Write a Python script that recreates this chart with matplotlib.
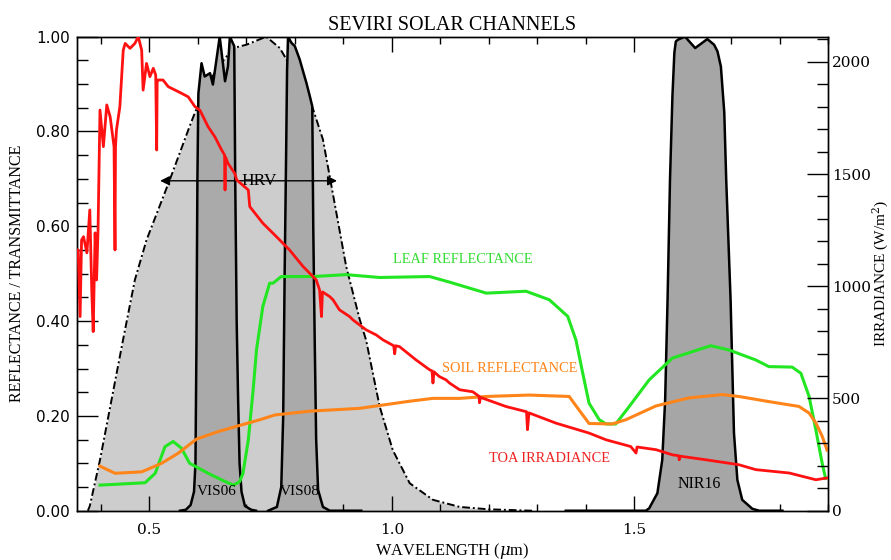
import matplotlib
matplotlib.use("Agg")
import matplotlib.pyplot as plt
from matplotlib.ticker import MultipleLocator, FormatStrFormatter

plt.rcParams['mathtext.fontset'] = 'dejavuserif'

# HRV broad band response (dash-dot outline)
hrv_x = [0.373, 0.377, 0.398, 0.4455, 0.47, 0.494, 0.542, 0.583, 0.594, 0.62, 0.645,
         0.673, 0.700, 0.741, 0.769, 0.781, 0.81, 0.837, 0.858, 0.872, 0.906, 0.934,
         0.947, 0.975, 1.002, 1.037, 1.085, 1.14, 1.20, 1.29]
hrv_y = [0.0, 0.01, 0.107, 0.36, 0.487, 0.571, 0.698, 0.811, 0.840, 0.90, 0.94,
         0.976, 0.983, 1.0, 0.976, 0.955, 0.90, 0.849, 0.783, 0.705, 0.515, 0.403,
         0.360, 0.220, 0.128, 0.058, 0.023, 0.008, 0.003, 0.0]

# narrow channels
vis06_x = [0.563, 0.575, 0.585, 0.592, 0.595, 0.597, 0.599, 0.601, 0.6075, 0.614, 0.625,
           0.631, 0.645, 0.656, 0.662, 0.666, 0.675, 0.677, 0.680, 0.683, 0.686, 0.690,
           0.697, 0.710, 0.720]
vis06_y = [0.0, 0.002, 0.012, 0.04, 0.1, 0.35, 0.7, 0.88, 0.944, 0.916, 0.923,
           0.899, 1.0, 0.906, 0.937, 1.0, 0.980, 0.7, 0.4, 0.234, 0.1, 0.04,
           0.01, 0.002, 0.0]

vis08_x = [0.745, 0.763, 0.772, 0.776, 0.779, 0.782, 0.784, 0.786, 0.793, 0.800, 0.810,
           0.824, 0.831, 0.836, 0.838, 0.841, 0.844, 0.848, 0.858, 0.872, 0.937]
vis08_y = [0.0, 0.008, 0.05, 0.2, 0.5, 0.75, 0.93, 1.0, 0.987, 0.980, 0.952,
           0.902, 0.874, 0.853, 0.6, 0.36, 0.15, 0.044, 0.008, 0.0, 0.0]

nir16_x = [1.359, 1.524, 1.531, 1.548, 1.558, 1.564, 1.569, 1.574, 1.579, 1.583, 1.586,
           1.591, 1.605, 1.626, 1.651, 1.665, 1.672, 1.679, 1.686, 1.690, 1.699, 1.706,
           1.713, 1.723, 1.744, 1.758, 1.806]
nir16_y = [0.0, 0.0, 0.005, 0.037, 0.107, 0.234, 0.446, 0.698, 0.874, 0.966, 0.990,
           0.994, 1.0, 0.976, 0.995, 0.983, 0.969, 0.937, 0.840, 0.698, 0.445, 0.164,
           0.065, 0.023, 0.004, 0.0, 0.0]

# leaf and soil reflectance
leaf_x = [0.398, 0.491, 0.512, 0.532, 0.549, 0.566, 0.583, 0.594, 0.621, 0.649, 0.673,
          0.686, 0.693, 0.704, 0.714, 0.721, 0.734, 0.748, 0.755, 0.772, 0.837, 0.906,
          0.975, 1.078, 1.12, 1.195, 1.277, 1.325, 1.363, 1.380, 1.394, 1.407, 1.428,
          1.442, 1.462, 1.490, 1.531, 1.579, 1.658, 1.696, 1.751, 1.778, 1.826, 1.844,
          1.861, 1.875, 1.888, 1.895]
leaf_y = [0.054, 0.059, 0.079, 0.135, 0.146, 0.132, 0.100, 0.094, 0.079, 0.065, 0.054,
          0.061, 0.079, 0.149, 0.255, 0.340, 0.431, 0.480, 0.480, 0.494, 0.494, 0.498,
          0.492, 0.494, 0.482, 0.459, 0.463, 0.445, 0.410, 0.360, 0.290, 0.227, 0.192,
          0.183, 0.183, 0.220, 0.276, 0.322, 0.348, 0.339, 0.318, 0.304, 0.303, 0.290,
          0.241, 0.170, 0.100, 0.068]

soil_x = [0.398, 0.429, 0.484, 0.525, 0.559, 0.597, 0.642, 0.683, 0.728, 0.759, 0.831,
          0.934, 1.037, 1.085, 1.14, 1.195, 1.284, 1.366, 1.386, 1.407, 1.455, 1.483,
          1.545, 1.613, 1.682, 1.716, 1.785, 1.84, 1.861, 1.875, 1.888, 1.898]
soil_y = [0.094, 0.079, 0.082, 0.100, 0.121, 0.151, 0.167, 0.179, 0.192, 0.202, 0.210,
          0.216, 0.231, 0.237, 0.237, 0.241, 0.244, 0.241, 0.213, 0.184, 0.183, 0.192,
          0.221, 0.238, 0.245, 0.241, 0.229, 0.220, 0.206, 0.185, 0.157, 0.128]

# top of atmosphere solar irradiance (W/m2)
toa_x = [0.350, 0.353, 0.357, 0.360, 0.364, 0.371, 0.377, 0.381, 0.384, 0.388, 0.391,
         0.394, 0.398, 0.405, 0.412, 0.419, 0.427, 0.429, 0.430, 0.432, 0.439, 0.446,
         0.450, 0.460, 0.470, 0.477, 0.484, 0.487, 0.494, 0.501, 0.508, 0.513, 0.515,
         0.516, 0.518, 0.528, 0.539, 0.553, 0.566, 0.580, 0.594, 0.604, 0.621, 0.635,
         0.649, 0.655, 0.656, 0.657, 0.662, 0.676, 0.680, 0.704, 0.707, 0.734, 0.762,
         0.789, 0.817, 0.844, 0.851, 0.855, 0.857, 0.872, 0.879, 0.892, 0.913, 0.920,
         0.947, 0.968, 0.982, 1.004, 1.006, 1.008, 1.016, 1.050, 1.078, 1.083, 1.085,
         1.087, 1.098, 1.112, 1.119, 1.140, 1.167, 1.180, 1.181, 1.183, 1.236, 1.278,
         1.280, 1.283, 1.339, 1.407, 1.442, 1.493, 1.504, 1.506, 1.545, 1.579, 1.592,
         1.593, 1.595, 1.648, 1.716, 1.751, 1.820, 1.875, 1.898]
toa_y = [1162, 1162, 865, 1206, 1221, 1149, 1340, 984, 798, 1238, 1028,
         1251, 1785, 1622, 1808, 1755, 1622, 1162, 1622, 1696, 1800, 2052,
         2082, 2060, 2082, 2112, 2052, 1874, 1993, 1934, 1971, 1941, 1607,
         1919, 1919, 1919, 1889, 1874, 1860, 1844, 1800, 1785, 1711, 1666,
         1607, 1585, 1429, 1576, 1548, 1503, 1474, 1429, 1355, 1281, 1221,
         1162, 1088, 1029, 984, 865, 975, 954, 939, 895, 865, 850,
         806, 783, 761, 735, 699, 735, 731, 672, 628, 623, 569,
         619, 598, 583, 569, 539, 530, 510, 481, 505, 464, 441,
         361, 436, 390, 346, 316, 286, 257, 284, 272, 249, 245,
         227, 243, 227, 205, 183, 168, 138, 146]

fig = plt.figure(figsize=(8.91, 5.6), dpi=100)
ax = fig.add_axes([0.0861, 0.088, 0.8432, 0.8465])

ax.fill_between(hrv_x, hrv_y, color='#cdcdcd', lw=0, zorder=1)
ax.plot(hrv_x, hrv_y, color='black', ls=(0, (4, 1.5, 1, 1.5)), lw=1.4, zorder=2)

for fx, fy, fc in [(vis06_x, vis06_y, '#aaaaaa'), (vis08_x, vis08_y, '#aaaaaa'),
                   (nir16_x, nir16_y, '#a6a6a6')]:
    ax.fill_between(fx, fy, color=fc, lw=0, zorder=3)
    ax.plot(fx, fy, color='black', lw=1.8, zorder=4)

ax.plot(leaf_x, leaf_y, color='#22e622', lw=2.2, zorder=5)
ax.plot(soil_x, soil_y, color='#ff8419', lw=2.2, zorder=5)

ax.annotate('', xy=(0.522, 0.696), xytext=(0.887, 0.696),
            arrowprops=dict(arrowstyle='<|-|>', color='black', lw=1.0,
                            mutation_scale=14, shrinkA=0, shrinkB=0), zorder=6)
ax.text(0.726, 0.696, 'HRV', family='Liberation Serif', fontsize=12.5,
        ha='center', va='center', zorder=7)
ax.text(0.639, 0.04, 'VIS06', family='Liberation Serif', fontsize=11,
        ha='center', va='center', zorder=7)
ax.text(0.811, 0.04, 'VIS08', family='Liberation Serif', fontsize=11,
        ha='center', va='center', zorder=7)
ax.text(1.634, 0.057, 'NIR16', family='Liberation Serif', fontsize=11.5,
        ha='center', va='center', zorder=7)
ax.text(1.146, 0.529, 'LEAF REFLECTANCE', family='Liberation Serif', fontsize=10.4,
        color='#33dd33', ha='center', va='center', zorder=7)
ax.text(1.243, 0.301, 'SOIL REFLECTANCE', family='Liberation Serif', fontsize=10.4,
        color='#ff8419', ha='center', va='center', zorder=7)
ax.text(1.325, 0.111, 'TOA IRRADIANCE', family='Liberation Serif', fontsize=10.4,
        color='#ee2222', ha='center', va='center', zorder=7)

ax.set_xlim(0.35, 1.90)
ax.set_ylim(0, 1.0)
ax.xaxis.set_major_locator(MultipleLocator(0.5))
ax.xaxis.set_minor_locator(MultipleLocator(0.1))
ax.xaxis.set_major_formatter(FormatStrFormatter('%.1f'))
ax.yaxis.set_major_locator(MultipleLocator(0.2))
ax.yaxis.set_minor_locator(MultipleLocator(0.05))
ax.yaxis.set_major_formatter(FormatStrFormatter('%.2f'))
ax.tick_params(axis='x', which='both', direction='in', top=True, bottom=True, pad=9)
ax.tick_params(axis='x', which='major', length=11, width=1)
ax.tick_params(axis='x', which='minor', length=5, width=1)
ax.tick_params(axis='y', which='both', direction='in', right=False, pad=5)
ax.tick_params(axis='y', which='major', length=15, width=1)
ax.tick_params(axis='y', which='minor', length=8, width=1)
for lab in ax.get_xticklabels():
    lab.set_family('DejaVu Serif')
    lab.set_fontsize(11)
for lab in ax.get_yticklabels():
    lab.set_family('DejaVu Sans')
    lab.set_fontsize(11)

ax.set_xlabel(r'WAVELENGTH ($\mu$m)', family='Liberation Serif', fontsize=11.8, labelpad=3)
ax.set_ylabel('REFLECTANCE / TRANSMITTANCE', family='Liberation Serif', fontsize=11.5, labelpad=8)
ax.set_title('SEVIRI SOLAR CHANNELS', family='Liberation Serif', fontsize=14.5, pad=5)

ax2 = ax.twinx()
ax2.plot(toa_x, toa_y, color='#ff1111', lw=2.0, zorder=5)
ax2.set_ylim(0, 2112)
ax2.yaxis.set_major_locator(MultipleLocator(500))
ax2.yaxis.set_minor_locator(MultipleLocator(100))
ax2.tick_params(axis='y', which='both', direction='in', pad=3)
ax2.tick_params(axis='y', which='major', length=15, width=1)
ax2.tick_params(axis='y', which='minor', length=8, width=1)
for lab in ax2.get_yticklabels():
    lab.set_family('DejaVu Serif')
    lab.set_fontsize(11)
ax2.set_ylabel(r'IRRADIANCE (W/m$^2$)', family='Liberation Serif', fontsize=11, labelpad=0)

for a in (ax, ax2):
    for s in a.spines.values():
        s.set_linewidth(1.0)

fig.savefig('out.png', dpi=100)
